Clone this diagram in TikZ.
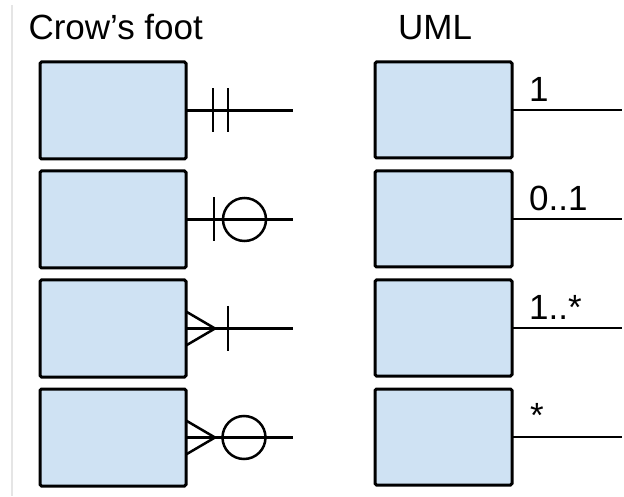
\documentclass[tikz,border=0pt]{standalone}
\usepackage{fontspec}
\setmainfont{Liberation Sans}
\usepackage{tikz}
\usetikzlibrary{positioning,calc}
\definecolor{entityblue}{HTML}{CFE2F3}

\begin{document}
\begin{tikzpicture}[
  x=1pt, y=1pt,
  node distance=12pt,
  entity/.style={draw, fill=entityblue, line width=3pt, rounded corners=1.5pt,
                 outer sep=0pt, inner sep=0pt},
  cfbox/.style={entity, minimum width=146pt, minimum height=97pt},
  umlbox/.style={entity, minimum width=137pt, minimum height=96pt},
  rel/.style={line width=2.5pt},
  head/.style={font=\fontsize{35}{40}\selectfont, anchor=base west, inner sep=0pt},
  mult/.style={font=\fontsize{35}{40}\selectfont, anchor=base west, inner sep=0pt}
]
\useasboundingbox (0,0) rectangle (624,496);
\draw[black!10, line width=1.5pt] (12,0) -- (12,491);
% headings
\node[head] (cfhead) at (28.3,456.5) {Crow’s foot};
\node[head] (umlhead) at (398,456.5) {UML};
% entity boxes
\node[cfbox] (cf1) at (113,385.5) {};
\node[cfbox, below=of cf1] (cf2) {};
\node[cfbox, below=of cf2] (cf3) {};
\node[cfbox, below=of cf3] (cf4) {};
\node[umlbox] (uml1) at (443.5,386) {};
\node[umlbox, below=13pt of uml1] (uml2) {};
\node[umlbox, below=13pt of uml2] (uml3) {};
\node[umlbox, below=13pt of uml3] (uml4) {};
% relationship lines
\foreach \i in {1,...,4} {
  \coordinate (cfend\i) at ($(cf\i.east)+(107,0)$);
  \coordinate (umlend\i) at ($(uml\i.east)+(110,0)$);
  \draw[rel] (cf\i) -- (cfend\i);
  \draw[rel] (uml\i) -- (umlend\i);
}
% crow's foot ends
\draw[rel] ($(cf1.east)+(27,22)$) -- ($(cf1.east)+(27,-22)$);
\draw[rel] ($(cf1.east)+(42,22)$) -- ($(cf1.east)+(42,-22)$);
\draw[rel] ($(cf2.east)+(28,22)$) -- ($(cf2.east)+(28,-22)$);
\draw[rel] ($(cf2.east)+(58.5,0)$) circle (21.5);
\draw[rel] ($(cf3.east)+(0,17)$) -- ($(cf3.east)+(29,0)$) -- ($(cf3.east)+(0,-17)$);
\draw[rel] ($(cf3.east)+(42,22.5)$) -- ($(cf3.east)+(42,-22.5)$);
\draw[rel] ($(cf4.east)+(0,17)$) -- ($(cf4.east)+(29,0)$) -- ($(cf4.east)+(0,-17)$);
\draw[rel] ($(cf4.east)+(58,0)$) circle (21.5);
% multiplicities
\node[mult] (m1) at ($(uml1.east)+(17,8)$) {1};
\node[mult] (m2) at ($(uml2.east)+(17,8)$) {0..1};
\node[mult] (m3) at ($(uml3.east)+(17,8)$) {1..*};
\node[mult] (m4) at ($(uml4.east)+(18,10)$) {*};
\end{tikzpicture}
\end{document}
